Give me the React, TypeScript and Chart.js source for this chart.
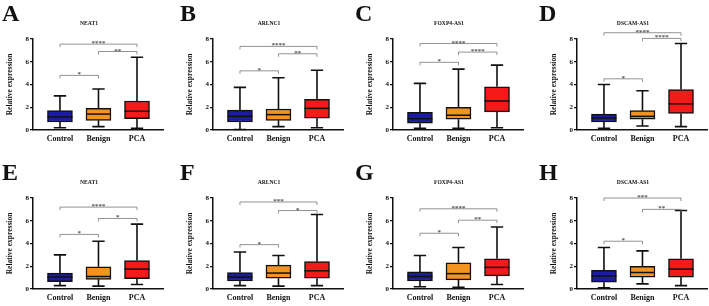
import React, { useEffect, useRef } from "react";
import { Chart, registerables } from "chart.js";

Chart.register(...registerables);

// ---- data ----
const panelLetters = ["A", "B", "C", "D", "E", "F", "G", "H"];
const geneNames = ["NEAT1", "ARLNC1", "FOXP4-AS1", "DSCAM-AS1", "NEAT1", "ARLNC1", "FOXP4-AS1", "DSCAM-AS1"];
const groups = ["Control", "Benign", "PCA"];
const groupColors = ["#1c1ca0", "#f39322", "#f41a1a"];
const yAxisTitle = "Relative expression";
const yMin = 0;
const yMax = 8;
const yStep = 2;

// per panel, per group (Control, Benign, PCA)
const mins = [
  [0.2, 0.3, 0.15], [0.05, 0.3, 0.2], [0.15, 0.15, 0.2], [0.15, 0.35, 0.3],
  [0.3, 0.25, 0.4], [0.3, 0.25, 0.3], [0.2, 0.15, 0.4], [0.1, 0.45, 0.3],
];
const q1s = [
  [0.7, 0.85, 1.0], [0.7, 0.85, 1.05], [0.6, 0.95, 1.6], [0.7, 0.95, 1.45],
  [0.65, 0.85, 0.9], [0.7, 0.95, 0.95], [0.7, 0.8, 1.15], [0.6, 1.05, 1.05],
];
const medians = [
  [1.15, 1.4, 1.65], [1.2, 1.35, 1.9], [1.0, 1.3, 2.55], [1.05, 1.2, 2.3],
  [1.05, 1.1, 1.75], [1.05, 1.4, 1.6], [1.1, 1.35, 1.9], [1.15, 1.45, 1.75],
];
const q3s = [
  [1.7, 1.9, 2.55], [1.75, 1.85, 2.7], [1.55, 2.0, 3.8], [1.4, 1.7, 3.55],
  [1.4, 1.95, 2.5], [1.45, 2.1, 2.4], [1.5, 2.3, 2.65], [1.65, 2.0, 2.65],
];
const maxs = [
  [3.0, 3.6, 6.4], [3.75, 4.6, 5.25], [4.1, 5.35, 5.7], [4.0, 3.45, 7.6],
  [3.0, 4.2, 5.7], [3.25, 2.95, 6.55], [2.95, 3.65, 5.45], [3.65, 3.35, 6.9],
];
// brackets: Control-Benign, Benign-PCA, Control-PCA
const bracketPairs = [[0, 1], [1, 2], [0, 2]];
const bracketLevels = [
  [4.8, 6.9, 7.55], [5.2, 6.7, 7.35], [5.95, 6.85, 7.6], [4.5, 8.05, 8.55],
  [4.8, 6.2, 7.2], [3.9, 6.9, 7.65], [4.9, 6.05, 7.05], [4.2, 7.0, 8.0],
];
const bracketStars = [
  ["*", "**", "****"], ["*", "**", "****"], ["*", "****", "****"], ["*", "****", "****"],
  ["*", "*", "****"], ["*", "*", "***"], ["*", "**", "****"], ["*", "**", "***"],
];

// ---- layout ----
const SERIF = '"Liberation Serif", "Times New Roman", serif';
const panelLefts = [0, 180, 360, 544];
const letterLefts = [2, 180, 355, 539];
const rowTops = [0, 159];
const CANVAS_W = 165;
const CANVAS_H = 147;
const BOX_HALF = 0.325;
const CAP_HALF = 0.16;

function makePlugin(idx: number) {
  return {
    id: "boxExtras" + idx,
    beforeDatasetsDraw(chart: any) {
      const ctx = chart.ctx;
      const xs = chart.scales.x;
      const ys = chart.scales.y;
      ctx.save();
      ctx.strokeStyle = "#111";
      ctx.lineWidth = 1.6;
      groups.forEach((_, i) => {
        const x = xs.getPixelForValue(i);
        const capL = xs.getPixelForValue(i - CAP_HALF);
        const capR = xs.getPixelForValue(i + CAP_HALF);
        const yTop = ys.getPixelForValue(maxs[idx][i]);
        const yQ3 = ys.getPixelForValue(q3s[idx][i]);
        const yQ1 = ys.getPixelForValue(q1s[idx][i]);
        const yBot = ys.getPixelForValue(mins[idx][i]);
        ctx.beginPath();
        ctx.moveTo(x, yQ3);
        ctx.lineTo(x, yTop);
        ctx.moveTo(capL, yTop);
        ctx.lineTo(capR, yTop);
        ctx.moveTo(x, yQ1);
        ctx.lineTo(x, yBot);
        ctx.moveTo(capL, yBot);
        ctx.lineTo(capR, yBot);
        ctx.stroke();
      });
      ctx.restore();
    },
    afterDatasetsDraw(chart: any) {
      const ctx = chart.ctx;
      const xs = chart.scales.x;
      const ys = chart.scales.y;
      ctx.save();
      // medians
      ctx.strokeStyle = "#111";
      ctx.lineWidth = 1.5;
      groups.forEach((_, i) => {
        const l = xs.getPixelForValue(i - BOX_HALF);
        const r = xs.getPixelForValue(i + BOX_HALF);
        const y = ys.getPixelForValue(medians[idx][i]);
        ctx.beginPath();
        ctx.moveTo(l, y);
        ctx.lineTo(r, y);
        ctx.stroke();
      });
      // significance brackets
      ctx.strokeStyle = "#777";
      ctx.fillStyle = "#555";
      ctx.lineWidth = 0.8;
      ctx.font = "bold 7px " + SERIF;
      ctx.textAlign = "center";
      ctx.textBaseline = "alphabetic";
      bracketPairs.forEach(([a, b], k) => {
        const x1 = xs.getPixelForValue(a);
        const x2 = xs.getPixelForValue(b);
        const y = ys.getPixelForValue(bracketLevels[idx][k]);
        ctx.beginPath();
        ctx.moveTo(x1, y + 3);
        ctx.lineTo(x1, y);
        ctx.lineTo(x2, y);
        ctx.lineTo(x2, y + 3);
        ctx.stroke();
        ctx.fillText(bracketStars[idx][k], (x1 + x2) / 2, y + 1);
      });
      // gene title
      ctx.fillStyle = "#111";
      ctx.font = "bold 5.6px " + SERIF;
      ctx.textBaseline = "middle";
      ctx.fillText(geneNames[idx], chart.chartArea.left + 56, 24);
      ctx.restore();
    },
  };
}

function Panel({ idx }: { idx: number }) {
  const ref = useRef<HTMLCanvasElement | null>(null);
  useEffect(() => {
    if (!ref.current) return;
    const chart = new Chart(ref.current, {
      type: "bar",
      data: {
        datasets: [
          {
            data: groups.map((_, i) => ({ x: i, y: [q1s[idx][i], q3s[idx][i]] })) as any,
            backgroundColor: groupColors,
            borderColor: "#111",
            borderWidth: 1.5,
            borderSkipped: false,
            barThickness: 25,
          },
        ],
      },
      options: {
        responsive: false,
        animation: false,
        devicePixelRatio: 1,
        layout: { padding: { top: 39, right: 2, bottom: 0, left: 0 } },
        plugins: { legend: { display: false }, tooltip: { enabled: false }, title: { display: false } },
        scales: {
          x: {
            type: "linear",
            offset: false,
            min: -0.7,
            max: 2.675,
            grid: { display: false, drawTicks: false, tickLength: 0 },
            border: { display: true, color: "#111", width: 1.5 },
            afterBuildTicks: (scale: any) => {
              scale.ticks = groups.map((_, i) => ({ value: i }));
            },
            afterFit: (scale: any) => {
              scale.height = 17;
            },
            ticks: {
              autoSkip: false,
              maxRotation: 0,
              padding: 4,
              color: "#111",
              font: { family: SERIF, size: 8, weight: "bold" },
              callback: (_v: any, i: number) => groups[i],
            },
          },
          y: {
            type: "linear",
            min: yMin,
            max: yMax,
            grid: { display: true, drawOnChartArea: false, drawTicks: true, tickLength: 3, color: "#111", lineWidth: 1.2 },
            border: { display: true, color: "#111", width: 1.5 },
            afterFit: (scale: any) => {
              scale.width = 33;
            },
            ticks: {
              stepSize: yStep,
              padding: 1,
              color: "#111",
              font: { family: SERIF, size: 7, weight: "bold" },
            },
            title: {
              display: true,
              text: yAxisTitle,
              color: "#111",
              padding: { top: 6, bottom: 0 },
              font: { family: SERIF, size: 7.5, weight: "bold" },
            },
          },
        },
      } as any,
      plugins: [makePlugin(idx)],
    });
    return () => chart.destroy();
  }, [idx]);
  const row = Math.floor(idx / 4);
  const col = idx % 4;
  return (
    <>
      <canvas
        ref={ref}
        width={CANVAS_W}
        height={CANVAS_H}
        style={{ position: "absolute", left: panelLefts[col], top: rowTops[row], width: CANVAS_W, height: CANVAS_H }}
      />
      <div
        style={{
          position: "absolute",
          left: letterLefts[col],
          top: rowTops[row] + 1,
          fontFamily: SERIF,
          fontWeight: "bold",
          fontSize: 24,
          lineHeight: "24px",
          color: "#111",
        }}
      >
        {panelLetters[idx]}
      </div>
    </>
  );
}

export default function App() {
  return (
    <div
      style={{
        position: "absolute",
        left: 0,
        top: 0,
        width: 709,
        height: 306,
        overflow: "hidden",
        background: "#fff",
      }}
    >
      {panelLetters.map((_, i) => (
        <Panel key={i} idx={i} />
      ))}
    </div>
  );
}
